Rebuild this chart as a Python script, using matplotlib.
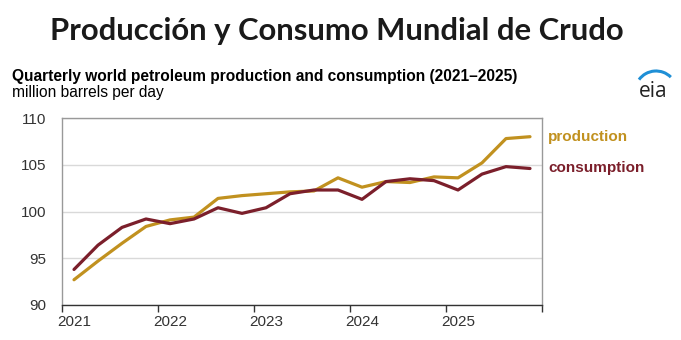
import numpy as np
import matplotlib
matplotlib.use('Agg')
from matplotlib import pyplot as plt
from matplotlib.patches import Arc

# DATA (million barrels per day, quarterly)
quarters = ['2021Q1', '2021Q2', '2021Q3', '2021Q4',
            '2022Q1', '2022Q2', '2022Q3', '2022Q4',
            '2023Q1', '2023Q2', '2023Q3', '2023Q4',
            '2024Q1', '2024Q2', '2024Q3', '2024Q4',
            '2025Q1', '2025Q2', '2025Q3', '2025Q4']
production = [92.7, 94.7, 96.6, 98.4,
              99.1, 99.4, 101.4, 101.7,
              101.9, 102.1, 102.2, 103.6,
              102.6, 103.2, 103.1, 103.7,
              103.6, 105.2, 107.8, 108.0]
consumption = [93.8, 96.4, 98.3, 99.2,
               98.7, 99.2, 100.4, 99.8,
               100.4, 101.9, 102.3, 102.3,
               101.3, 103.2, 103.5, 103.3,
               102.3, 104.0, 104.8, 104.6]
year_ticks = [2021, 2022, 2023, 2024, 2025]

# COLOURS
PROD_COLOR = '#C1911F'
CONS_COLOR = '#7B1F2B'
TEXT_COLOR = '#333333'


def quarter_position(label):
    year, q = label.split('Q')
    return int(year) + (int(q) - 1) / 4 + 0.125


def main():
    fig = plt.figure(figsize=(6.81, 3.40), dpi=100)

    # Headline and titles
    fig.text(0.495, 1 - 40 / 340, 'Producción y Consumo Mundial de Crudo', ha='center', va='baseline',
             fontsize=22.3, fontweight='bold', family='Lato', color='#1a1a1a')
    fig.text(12 / 681, 1 - 81 / 340, 'Quarterly world petroleum production and consumption (2021\u20132025)',
             ha='left', va='baseline', fontsize=11.2, fontweight='bold', family='Liberation Sans', color='black')
    fig.text(12 / 681, 1 - 97 / 340, 'million barrels per day', ha='left', va='baseline',
             fontsize=11.2, family='Liberation Sans', color='black')

    # eia logo (drawn in pixel coordinates, y axis points down)
    overlay = fig.add_axes([0, 0, 1, 1])
    overlay.set_xlim(0, 681)
    overlay.set_ylim(340, 0)
    overlay.axis('off')
    overlay.text(653, 97, 'eia', ha='center', va='baseline', fontsize=15, fontweight='medium',
                 family='Open Sans', color='#222222')
    overlay.add_patch(Arc((656, 92), 42, 42, theta1=216, theta2=315, color='#1F8FD6', lw=2.2))

    ax = fig.add_axes([62 / 681, 35 / 340, 480 / 681, 187 / 340])
    x = [quarter_position(q) for q in quarters]
    ax.plot(x, production, color=PROD_COLOR, lw=2.3, solid_capstyle='round')
    ax.plot(x, consumption, color=CONS_COLOR, lw=2.3, solid_capstyle='round')

    ax.set_xlim(2021, 2026)
    ax.set_ylim(90, 110)
    ax.set_yticks([90, 95, 100, 105, 110])
    ax.set_xticks(year_ticks + [2026])
    ax.set_xticklabels([])
    ax.set_xticks([y + 0.125 for y in year_ticks], minor=True)
    ax.set_xticklabels([str(y) for y in year_ticks], minor=True)

    ax.grid(axis='y', color='#d9d9d9', lw=1)
    ax.set_axisbelow(True)
    for side in ['top', 'right', 'left']:
        ax.spines[side].set_color('#999999')
        ax.spines[side].set_linewidth(1)
    ax.spines['bottom'].set_color('#333333')
    ax.spines['bottom'].set_linewidth(1)

    ax.tick_params(axis='y', length=0, pad=11.5, labelsize=11, labelcolor=TEXT_COLOR)
    ax.tick_params(axis='x', which='major', length=5, width=1, color='#333333')
    ax.tick_params(axis='x', which='minor', length=0, pad=7, labelsize=11, labelcolor=TEXT_COLOR)
    for label in ax.get_xticklabels(minor=True) + ax.get_yticklabels():
        label.set_family('Liberation Sans')

    # Series labels
    ax.text(1.013, 0.897, 'production', transform=ax.transAxes,
            ha='left', va='center', fontsize=11, fontweight='bold', color=PROD_COLOR, family='Liberation Sans')
    ax.text(1.013, 0.731, 'consumption', transform=ax.transAxes,
            ha='left', va='center', fontsize=11, fontweight='bold', color=CONS_COLOR, family='Liberation Sans')

    fig.savefig('out.png', dpi=100)


if __name__ == '__main__':
    main()
